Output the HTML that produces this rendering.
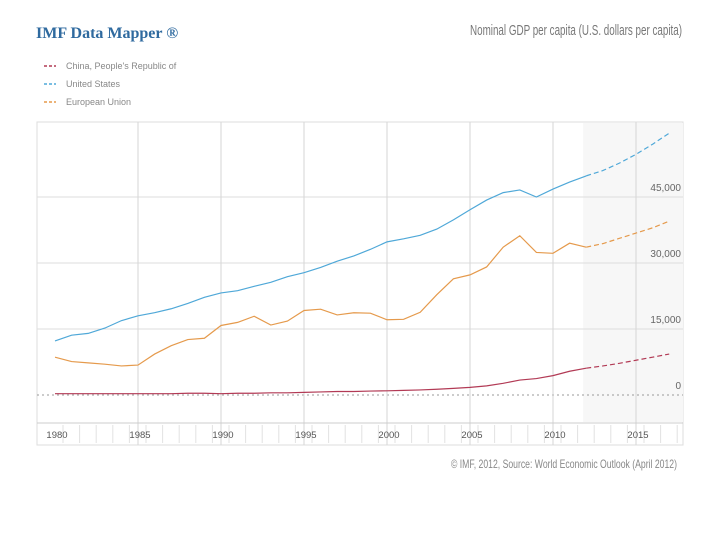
<!DOCTYPE html>
<html><head><meta charset="utf-8"><style>
body{margin:0;background:#fff;width:720px;height:540px;overflow:hidden;font-family:"Liberation Sans",sans-serif}
</style></head><body>
<svg width="720" height="540" xmlns="http://www.w3.org/2000/svg">
<text x="36" y="38" font-family="Liberation Serif" font-weight="bold" font-size="16" fill="#2f6a9f">IMF Data Mapper ®</text>
<text x="682" y="35" text-anchor="end" font-size="15" fill="#777" textLength="212" lengthAdjust="spacingAndGlyphs">Nominal GDP per capita (U.S. dollars per capita)</text>
<g id="legend"></g>
<rect x="37" y="122" width="646" height="323" fill="#fff" stroke="#ddd"/>
<g id="plot"></g>
<text x="677" y="468" text-anchor="end" font-size="12" fill="#888" textLength="226" lengthAdjust="spacingAndGlyphs">© IMF, 2012, Source: World Economic Outlook (April 2012)</text>
</svg>
<script>
const years=[];for(let y=1980;y<=2017;y++)years.push(y);
const usValues=[12.3,13.6,14.0,15.2,16.9,18.0,18.7,19.6,20.8,22.2,23.2,23.7,24.7,25.6,26.9,27.8,29.0,30.4,31.6,33.1,34.8,35.5,36.3,37.7,39.8,42.1,44.3,46.0,46.6,45.0,46.8,48.4,49.8,51.0,52.7,54.7,57.0,59.5];
const euValues=[8.6,7.6,7.3,7.0,6.6,6.8,9.3,11.2,12.6,12.9,15.8,16.5,17.9,15.9,16.8,19.2,19.5,18.2,18.7,18.6,17.1,17.2,18.8,22.8,26.4,27.3,29.1,33.6,36.2,32.4,32.2,34.5,33.6,34.4,35.6,36.8,38.0,39.5];
const cnValues=[0.3,0.3,0.3,0.3,0.3,0.3,0.3,0.3,0.4,0.4,0.3,0.4,0.4,0.5,0.5,0.6,0.7,0.8,0.8,0.9,0.95,1.05,1.15,1.3,1.5,1.73,2.07,2.65,3.4,3.74,4.4,5.4,6.1,6.6,7.2,7.9,8.6,9.3];
const yTicks=[0,15,30,45];
const yTickLabels=["0","15,000","30,000","45,000"];
const xLabelYears=[1980,1985,1990,1995,2000,2005,2010,2015];
const forecastStart=2012;
const series=[{name:"China, People's Republic of",vals:cnValues,color:"#b23a55"},{name:"United States",vals:usValues,color:"#4fa8d8"},{name:"European Union",vals:euValues,color:"#e59a4c"}];
const NS="http://www.w3.org/2000/svg";
const X=y=>55+(y-1980)*16.6;
const Y=v=>395-v*66/15;
const plot=document.getElementById('plot');
function mk(t,a,p){const e=document.createElementNS(NS,t);for(const k in a)e.setAttribute(k,a[k]);(p||plot).appendChild(e);return e;}
let r=mk('rect',{x:X(forecastStart)-3,y:123,width:683-X(forecastStart)+3,height:299,fill:'#f7f7f7'});


yTicks.forEach((t,i)=>{
 if(t>0){let l=mk('line',{x1:37,x2:683,y1:Y(t),y2:Y(t),stroke:'#ddd'});
 
 }
 let tx=mk('text',{x:681,y:Y(t)-6,'text-anchor':'end','font-size':'10',fill:'#666'});tx.textContent=yTickLabels[i];
 
 
});
let zl=mk('line',{x1:37,x2:683,y1:Y(0),y2:Y(0),stroke:'#999','stroke-dasharray':'2,3'});


xLabelYears.forEach(y=>{
 if(y>1980){let l=mk('line',{x1:X(y),x2:X(y),y1:122,y2:445,stroke:'#d6d6d6'});
 
 }
});
let strip=mk('line',{x1:37,x2:683,y1:423,y2:423,stroke:'#ccc'});


years.forEach(y=>{let l=mk('line',{x1:X(y)+8,x2:X(y)+8,y1:425,y2:443,stroke:'#e2e2e2'});
 
 });
xLabelYears.forEach(y=>{let t=mk('text',{x:X(y)+2,y:438,'text-anchor':'middle','font-size':'9.5',fill:'#555'});t.textContent=y;
 
 });
series.forEach((s,si)=>{
 const pts=s.vals.map((v,i)=>[X(years[i]),Y(v)]);
 const fi=years.indexOf(forecastStart);
 let a=mk('polyline',{points:pts.slice(0,fi+1).join(' '),fill:'none',stroke:s.color,'stroke-width':1.2});
 
 
 let b=mk('polyline',{points:pts.slice(fi).join(' '),fill:'none',stroke:s.color,'stroke-width':1.2,'stroke-dasharray':'5,3'});
 
 
 const lg=document.getElementById('legend');const ly=66+si*18;
 let ll=mk('line',{x1:44,x2:56,y1:ly,y2:ly,stroke:s.color,'stroke-width':1.5,'stroke-dasharray':'3,2'},lg);
 
 
 let lt=mk('text',{x:66,y:ly+3,'font-size':'9',fill:'#888'},lg);lt.textContent=s.name;
 
 
});
</script>
</body></html>
